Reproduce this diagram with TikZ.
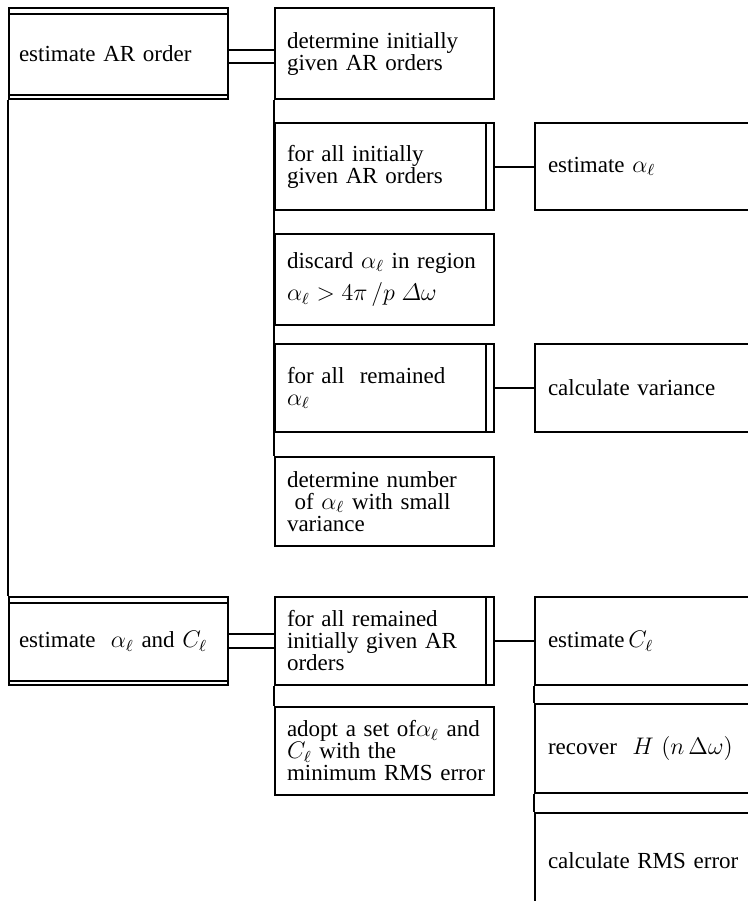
\documentclass[tikz,border=0pt]{standalone}
\usepackage[no-math]{fontspec}
\setmainfont{Liberation Serif}
\usepackage{tikz}
\usetikzlibrary{positioning}
\newcommand\chartfont{\fontsize{11.5}{11}\selectfont}
\tikzset{
  blk/.style={draw,line width=1pt,anchor=north west,inner ysep=0pt,align=left,font=\chartfont},
  lblk/.style={blk,inner xsep=5pt,text width=99.5pt},
  mblk/.style={blk,inner xsep=6pt,text width=97.5pt},
  rblk/.style={blk,inner xsep=6.5pt,text width=100pt},
  link/.style={draw=black,line width=1pt},
}

\begin{document}
\begin{tikzpicture}[x=0.5pt,y=-0.5pt]
  \useasboundingbox (0,0) rectangle (748,901);
  \clip (0,0) rectangle (748,901);
  \node[lblk,minimum height=45.5pt] (ar) at (8,7) {estimate AR order};
  \node[lblk,minimum height=44pt] (ac) at (8,596) {estimate\ \ $\alpha_\ell$ and $C_\ell$};
  \node[mblk,minimum height=45.5pt] (init) at (274,7) {determine initially\\given AR orders};
  \node[mblk,minimum height=43.5pt] (loopa) at (274,122) {for all initially\\given AR orders};
  \node[mblk,minimum height=45.5pt] (discard) at (274,233)
    {\mbox{discard $\alpha_\ell$ in region}\\[4pt]$\alpha_\ell>4\pi\,/p\;\mathnormal{\Delta}\omega$};
  \node[mblk,minimum height=44pt] (loopv) at (274,343) {for all\ \ remained\\$\alpha_\ell$};
  \node[mblk,minimum height=44.5pt] (count) at (274,456) {determine number\\\ of $\alpha_\ell$ with small\\variance};
  \node[mblk,minimum height=44pt] (loopc) at (274,596) {for all remained\\initially given AR\\orders};
  \node[mblk,minimum height=44pt] (adopt) at (274,706)
    {\mbox{adopt a set of$\alpha_\ell$\ and}\\$C_\ell$ with the\\\mbox{minimum RMS error}};
  \node[rblk,minimum height=43.5pt] (esta) at (534,122) {estimate $\alpha_\ell$};
  \node[rblk,minimum height=44pt] (var) at (534,343) {calculate variance};
  \node[rblk,minimum height=44pt] (estc) at (534,596) {estimate\,$C_\ell$};
  \node[rblk,minimum height=44.5pt] (recov) at (534,703) {recover\ \ $H\ (n\,\Delta\omega)$};
  \node[rblk,minimum height=48pt] (rms) at (534,812) {calculate RMS error};
  \foreach \n in {ar,ac} {
    \draw[link] ([yshift=-3.5pt]\n.north west) -- ([yshift=-3.5pt]\n.north east);
    \draw[link] ([yshift=2.5pt]\n.south west) -- ([yshift=2.5pt]\n.south east);
  }
  \foreach \n in {loopa,loopv,loopc}
    \draw[link] ([xshift=-4.5pt]\n.north east) -- ([xshift=-4.5pt]\n.south east);
  \draw[link] ([yshift=1.75pt]ar.east) -- ([yshift=1.75pt]init.west);
  \draw[link] ([yshift=-4.75pt]ar.east) -- ([yshift=-4.75pt]init.west);
  \draw[link] ([yshift=3.5pt]ac.east) -- ([yshift=3.5pt]loopc.west);
  \draw[link] ([yshift=-3.5pt]ac.east) -- ([yshift=-3.5pt]loopc.west);
  \draw[link] (loopa) -- (esta);
  \draw[link] (loopv) -- (var);
  \draw[link] (loopc) -- (estc);
  \draw[link] (ar.south west) -- (ac.north west);
  \draw[link] (init.south west) -- (count.north west);
  \draw[link] (loopc.south west) -- (adopt.north west);
  \draw[link] (estc.south west) -- (recov.north west);
  \draw[link] (recov.south west) -- (rms.north west);
\end{tikzpicture}
\end{document}
